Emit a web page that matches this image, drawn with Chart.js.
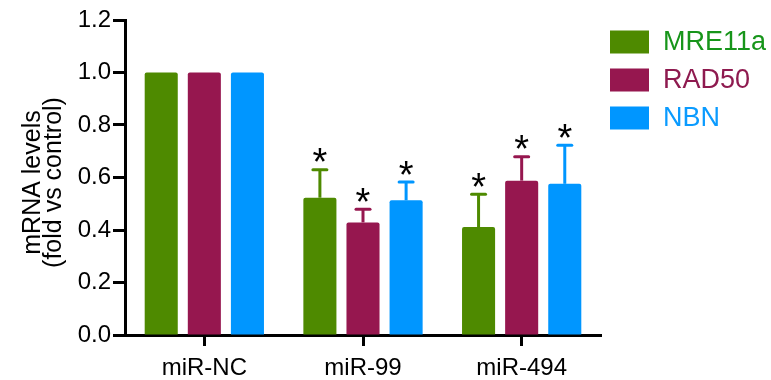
<!DOCTYPE html>
<html>
<head>
<meta charset="utf-8">
<script src="https://cdn.jsdelivr.net/npm/chart.js@4.4.0/dist/chart.umd.min.js"></script>
<style>
  html, body { margin: 0; padding: 0; background: #ffffff; }
  #wrap { width: 771px; height: 380px; position: relative; }
  canvas { display: block; }
</style>
</head>
<body>
<div id="wrap"><canvas id="c" width="771" height="380"></canvas></div>
<script>
// ---- data ----
const categories = ['miR-NC', 'miR-99', 'miR-494'];
const seriesNames = ['MRE11a', 'RAD50', 'NBN'];
const mre11aValues = [1.0, 0.523, 0.411];
const mre11aErrors = [0, 0.107, 0.125];
const rad50Values = [1.0, 0.429, 0.588];
const rad50Errors = [0, 0.050, 0.091];
const nbnValues = [1.0, 0.513, 0.576];
const nbnErrors = [0, 0.070, 0.147];
const mre11aSignificant = [false, true, true];
const rad50Significant = [false, true, true];
const nbnSignificant = [false, true, true];
const yTicks = [0, 0.2, 0.4, 0.6, 0.8, 1.0, 1.2];
const yTitle = ['mRNA levels', '(fold vs control)'];

// ---- styles ----
const barColors = ['#4e8a00', '#96174f', '#0096ff'];
const legendTextColors = ['#17951a', '#8e1a4f', '#0a9bff'];
const FONT = '"Liberation Sans", Arial, Helvetica, sans-serif';

const valuesBySeries = [mre11aValues, rad50Values, nbnValues];
const errorsBySeries = [mre11aErrors, rad50Errors, nbnErrors];
const sigBySeries = [mre11aSignificant, rad50Significant, nbnSignificant];

const datasets = seriesNames.map((name, i) => ({
  label: name,
  data: valuesBySeries[i],
  errors: errorsBySeries[i],
  significant: sigBySeries[i],
  backgroundColor: barColors[i],
  borderWidth: 0,
  borderRadius: 2,
  borderSkipped: 'bottom',
  barPercentage: 0.767,
  categoryPercentage: 0.815
}));

const errorBarPlugin = {
  id: 'errorBars',
  afterDatasetsDraw(chart) {
    const ctx = chart.ctx;
    const yScale = chart.scales.y;
    chart.data.datasets.forEach((ds, di) => {
      const meta = chart.getDatasetMeta(di);
      meta.data.forEach((bar, idx) => {
        const v = ds.data[idx];
        const e = ds.errors[idx];
        const yTop = yScale.getPixelForValue(v);
        const yErr = yScale.getPixelForValue(v + e);
        ctx.save();
        if (e > 0) {
          ctx.strokeStyle = ds.backgroundColor;
          ctx.lineWidth = 3;
          ctx.lineCap = 'butt';
          ctx.beginPath();
          ctx.moveTo(bar.x, yTop);
          ctx.lineTo(bar.x, yErr);
          ctx.stroke();
          ctx.lineCap = 'round';
          ctx.beginPath();
          ctx.moveTo(bar.x - 7, yErr);
          ctx.lineTo(bar.x + 7, yErr);
          ctx.stroke();
        }
        if (ds.significant[idx]) {
          ctx.fillStyle = '#000000';
          ctx.font = '38px ' + FONT;
          ctx.textAlign = 'center';
          ctx.textBaseline = 'alphabetic';
          ctx.fillText('*', bar.x, yErr - 16 + 0.57 * 38);
        }
        ctx.restore();
      });
    });
  }
};

const yTitlePlugin = {
  id: 'yTitle',
  afterDraw(chart) {
    const ctx = chart.ctx;
    const area = chart.chartArea;
    const cy = (area.top + area.bottom) / 2 + 5;
    const baselines = [40, 61];
    ctx.save();
    ctx.fillStyle = '#000';
    ctx.font = '25px ' + FONT;
    ctx.textAlign = 'center';
    ctx.textBaseline = 'alphabetic';
    yTitle.forEach((line, i) => {
      ctx.save();
      ctx.translate(baselines[i], cy);
      ctx.rotate(-Math.PI / 2);
      ctx.fillText(line, 0, 0);
      ctx.restore();
    });
    ctx.restore();
  }
};

const legendPlugin = {
  id: 'sideLegend',
  afterDraw(chart) {
    const ctx = chart.ctx;
    const x0 = 610, rowCenters = [42, 80, 118];
    chart.data.datasets.forEach((ds, i) => {
      ctx.save();
      ctx.fillStyle = ds.backgroundColor;
      ctx.fillRect(x0, rowCenters[i] - 11.5, 39, 23);
      ctx.fillStyle = legendTextColors[i];
      ctx.font = '27px ' + FONT;
      ctx.textAlign = 'left';
      ctx.textBaseline = 'middle';
      ctx.fillText(ds.label, 663, rowCenters[i] + 1);
      ctx.restore();
    });
  }
};

new Chart(document.getElementById('c'), {
  type: 'bar',
  data: { labels: categories, datasets },
  options: {
    responsive: false,
    animation: false,
    devicePixelRatio: 1,
    layout: { padding: { left: 0, right: 170, top: 20, bottom: 0 } },
    plugins: { legend: { display: false }, tooltip: { enabled: false } },
    scales: {
      x: {
        afterFit(scale) { scale.height = 45; },
        grid: { display: true, drawOnChartArea: false, drawTicks: true, tickLength: 11, tickWidth: 3, tickColor: '#000', offset: false },
        border: { display: true, width: 3, color: '#000' },
        ticks: { color: '#000', font: { family: FONT, size: 24 }, padding: 8, maxRotation: 0 }
      },
      y: {
        min: 0, max: 1.2,
        afterFit(scale) { scale.width = 125; },
        afterBuildTicks(scale) { scale.ticks = yTicks.map(v => ({ value: v })); },
        grid: { display: true, drawOnChartArea: false, drawTicks: true, tickLength: 12, tickWidth: 3, tickColor: '#000' },
        border: { display: true, width: 3, color: '#000' },
        ticks: { color: '#000', font: { family: FONT, size: 24 }, padding: 2, callback: v => Number(v).toFixed(1) },
        title: { display: false }
      }
    }
  },
  plugins: [errorBarPlugin, yTitlePlugin, legendPlugin]
});
</script>
</body>
</html>
